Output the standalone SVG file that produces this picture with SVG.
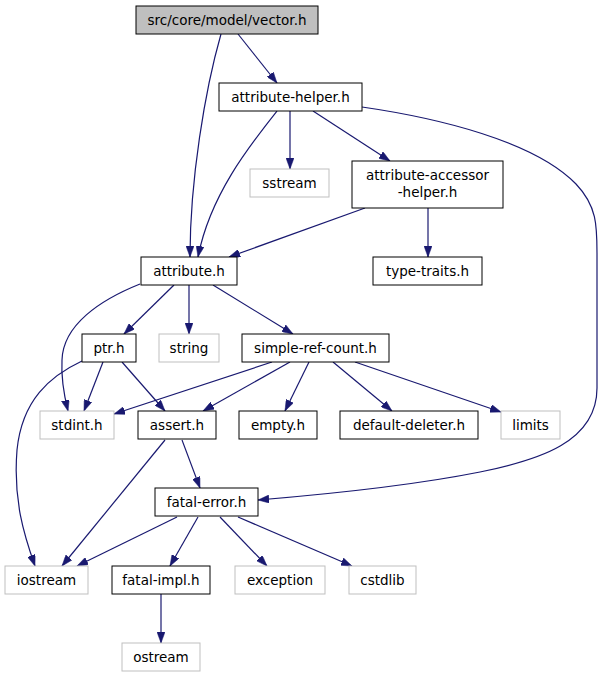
<svg xmlns="http://www.w3.org/2000/svg" width="604" height="677" viewBox="0 0 604 677">
<style>
.n rect{fill:#ffffff;stroke:#000000;stroke-width:1}
.n.ext rect{stroke:#bfbfbf}
.n.root rect{fill:#bfbfbf}
.n text{font-family:"DejaVu Sans",sans-serif;font-size:13.5px;fill:#000000;text-anchor:middle}
#edges path{fill:none;stroke:#191970;stroke-width:1.2;marker-end:url(#arr)}
</style>
<defs>
<marker id="arr" viewBox="0 0 11 8" markerWidth="11" markerHeight="8" refX="11" refY="4" orient="auto" markerUnits="userSpaceOnUse">
<path d="M0,0 L11,4 L0,8 Z" fill="#191970" stroke="#191970" stroke-width="0.5"/>
</marker>
</defs>
<rect width="604" height="677" fill="#ffffff"/>
<g id="edges">
<path d="M238,34 L277,83"/>
<path d="M221,34 C205,90 190,180 190,257"/>
<path d="M290,111 L290,169"/>
<path d="M313,111 L390,161"/>
<path d="M277,111 C250,145 210,195 198,257"/>
<path d="M362,107 C438,118 534,141 576,184 C597,206 597,226 597,253 L597,388 C597,442 539,460 480,472 C420,484 330,494 258,500"/>
<path d="M365,208 L229,257"/>
<path d="M428,208 L428,257"/>
<path d="M140,284 C100,300 63,325 62,360 C61,378 64,395 68,411"/>
<path d="M174,285 L124,334"/>
<path d="M189,285 L189,334"/>
<path d="M213,285 L293,334"/>
<path d="M103,362 L84,411"/>
<path d="M122,362 L165,411"/>
<path d="M82,361 C50,376 22,400 17,450 C13,500 24,535 35,566"/>
<path d="M272,362 L114,414"/>
<path d="M290,362 L203,411"/>
<path d="M309,362 L285,411"/>
<path d="M333,362 L392,411"/>
<path d="M355,362 L501,412"/>
<path d="M165,440 L62,566"/>
<path d="M182,440 L200,488"/>
<path d="M177,517 L77,566"/>
<path d="M198,517 L170,566"/>
<path d="M220,517 L267,566"/>
<path d="M238,517 L352,566"/>
<path d="M161,594 L161,643"/>
</g>
<g id="vector_h" class="n root"><rect x="136" y="6" width="182" height="28"/><text x="227" y="25">src/core/model/vector.h</text></g>
<g id="attribute_helper_h" class="n"><rect x="219" y="83" width="143" height="28"/><text x="290.5" y="102">attribute-helper.h</text></g>
<g id="sstream" class="n ext"><rect x="250" y="169" width="79" height="28"/><text x="289.5" y="188">sstream</text></g>
<g id="attribute_accessor_helper_h" class="n"><rect x="352" y="161" width="151" height="47"/><text x="427.5" y="180">attribute-accessor</text><text x="427.5" y="197">-helper.h</text></g>
<g id="type_traits_h" class="n"><rect x="373" y="257" width="109" height="28"/><text x="427.5" y="276">type-traits.h</text></g>
<g id="attribute_h" class="n"><rect x="141" y="257" width="96" height="28"/><text x="189" y="276">attribute.h</text></g>
<g id="ptr_h" class="n"><rect x="82" y="334" width="54" height="28"/><text x="109" y="353">ptr.h</text></g>
<g id="string" class="n ext"><rect x="159" y="334" width="60" height="28"/><text x="189" y="353">string</text></g>
<g id="simple_ref_count_h" class="n"><rect x="242" y="334" width="147" height="28"/><text x="315.5" y="353">simple-ref-count.h</text></g>
<g id="stdint_h" class="n ext"><rect x="40" y="411" width="74" height="28"/><text x="77" y="430">stdint.h</text></g>
<g id="assert_h" class="n"><rect x="138" y="411" width="78" height="28"/><text x="177" y="430">assert.h</text></g>
<g id="empty_h" class="n"><rect x="239" y="411" width="78" height="28"/><text x="278" y="430">empty.h</text></g>
<g id="default_deleter_h" class="n"><rect x="340" y="411" width="138" height="28"/><text x="409" y="430">default-deleter.h</text></g>
<g id="limits" class="n ext"><rect x="501" y="411" width="59" height="28"/><text x="530.5" y="430">limits</text></g>
<g id="fatal_error_h" class="n"><rect x="155" y="488" width="103" height="28"/><text x="206.5" y="507">fatal-error.h</text></g>
<g id="iostream" class="n ext"><rect x="5" y="566" width="83" height="28"/><text x="46.5" y="585">iostream</text></g>
<g id="fatal_impl_h" class="n"><rect x="112" y="566" width="98" height="28"/><text x="161" y="585">fatal-impl.h</text></g>
<g id="exception" class="n ext"><rect x="235" y="566" width="90" height="28"/><text x="280" y="585">exception</text></g>
<g id="cstdlib" class="n ext"><rect x="349" y="566" width="67" height="28"/><text x="382.5" y="585">cstdlib</text></g>
<g id="ostream" class="n ext"><rect x="122" y="643" width="78" height="28"/><text x="161" y="662">ostream</text></g>
</svg>
